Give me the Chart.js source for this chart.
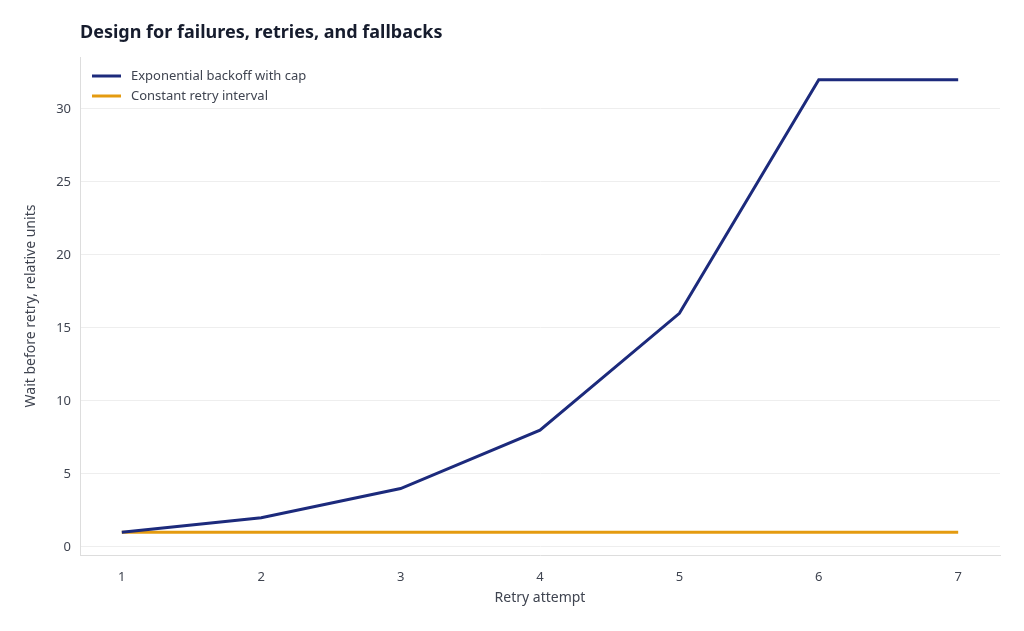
<!DOCTYPE html>
<html>
<head>
<meta charset="utf-8">
<script src="https://cdn.jsdelivr.net/npm/chart.js@4/dist/chart.umd.min.js"></script>
<style>
  html, body { margin: 0; padding: 0; background: #fff; }
  #wrap { width: 1024px; height: 631px; }
</style>
</head>
<body>
<div id="wrap"><canvas id="chart" width="1024" height="631"></canvas></div>
<script>
const attempts = [1, 2, 3, 4, 5, 6, 7];
const backoffWait = [1, 2, 4, 8, 16, 32, 32];
const constantWait = [1, 1, 1, 1, 1, 1, 1];
const yTicks = [0, 5, 10, 15, 20, 25, 30];

const font = '"Noto Sans", "DejaVu Sans", sans-serif';

// title, axis titles and legend drawn by hand to match the reference placement
const overlay = {
    id: 'overlay',
    afterDraw(chart) {
        const ctx = chart.ctx;
        const area = chart.chartArea;
        ctx.save();
        ctx.fillStyle = '#161c2d';
        ctx.font = 'bold 18px ' + font;
        ctx.textBaseline = 'middle';
        ctx.fillText('Design for failures, retries, and fallbacks', area.left, 33);

        ctx.fillStyle = '#3f4450';
        ctx.font = '14px ' + font;
        ctx.textAlign = 'center';
        ctx.fillText('Retry attempt', (area.left + area.right) / 2, 598);
        ctx.save();
        ctx.translate(31, (area.top + area.bottom) / 2);
        ctx.rotate(-Math.PI / 2);
        ctx.fillText('Wait before retry, relative units', 0, 0);
        ctx.restore();

        ctx.textAlign = 'left';
        ctx.font = '13px ' + font;
        chart.data.datasets.forEach((ds, i) => {
            const y = 76 + i * 20;
            ctx.strokeStyle = ds.borderColor;
            ctx.lineWidth = 3;
            ctx.beginPath();
            ctx.moveTo(92, y);
            ctx.lineTo(121, y);
            ctx.stroke();
            ctx.fillStyle = '#3f4450';
            ctx.fillText(ds.label, 131, y);
        });
        ctx.restore();
    }
};

new Chart(document.getElementById('chart'), {
    type: 'line',
    data: {
        datasets: [{
            label: 'Exponential backoff with cap',
            data: attempts.map((a, i) => ({ x: a, y: backoffWait[i] })),
            borderColor: '#1c2a7c',
            borderWidth: 3,
            pointRadius: 0,
            tension: 0
        }, {
            label: 'Constant retry interval',
            data: attempts.map((a, i) => ({ x: a, y: constantWait[i] })),
            borderColor: '#e49b10',
            borderWidth: 3,
            pointRadius: 0,
            tension: 0
        }]
    },
    options: {
        responsive: false,
        animation: false,
        layout: { padding: { top: 57, right: 24, left: 0, bottom: 0 } },
        plugins: {
            legend: { display: false },
            tooltip: { enabled: false }
        },
        scales: {
            x: {
                type: 'linear',
                min: 0.7,
                max: 7.3,
                afterBuildTicks: s => { s.ticks = attempts.map(v => ({ value: v })); },
                afterFit: s => { s.height = 76; },
                grid: { display: false },
                border: { color: '#dddddd' },
                ticks: { color: '#3f4450', font: { family: font, size: 13 }, padding: 6 }
            },
            y: {
                min: -0.55,
                max: 33.55,
                afterBuildTicks: s => { s.ticks = yTicks.map(v => ({ value: v })); },
                afterFit: s => { s.width = 80; },
                grid: { color: '#eeeeee', drawTicks: false },
                border: { color: '#dddddd' },
                ticks: { color: '#3f4450', font: { family: font, size: 13 }, padding: 9 }
            }
        }
    },
    plugins: [overlay]
});
</script>
</body>
</html>
